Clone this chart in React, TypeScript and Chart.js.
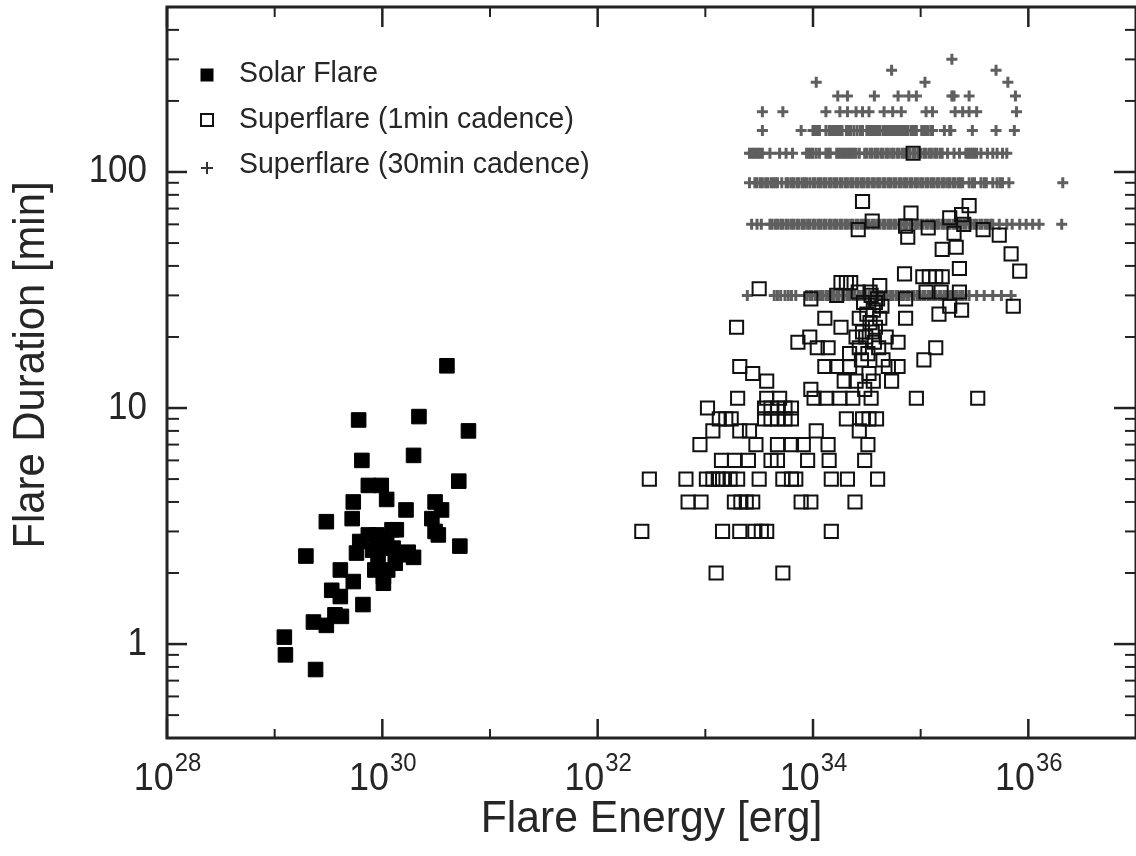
import React, { useEffect, useRef } from "react";
import { Chart, registerables } from "chart.js";

Chart.register(...registerables);

const FONT = '"Liberation Sans", Arial, Helvetica, sans-serif';
const TEXT = "#262626";
const AXIS = "#222222";
const CROSS = "#5f5f5f";

const seriesLabels = ["Solar Flare", "Superflare (1min cadence)", "Superflare (30min cadence)"];

// [log10 energy (erg), duration (min)]
const solarFlares: [number, number][] = [
  [30.60, 15.1], [29.78, 8.9], [30.34, 9.2], [30.80, 8.0], [29.81, 6.0], [30.29, 6.3],
  [30.71, 4.9], [29.87, 4.7], [29.99, 4.7], [29.73, 4.0], [30.04, 4.1], [30.22, 3.7],
  [30.49, 4.0], [30.55, 3.7], [29.48, 3.3], [29.72, 3.4], [30.13, 3.05], [30.46, 3.4],
  [29.87, 2.9], [30.04, 2.8], [30.52, 2.9], [30.72, 2.6], [29.29, 2.36], [29.76, 2.43],
  [29.91, 2.5], [29.96, 2.27], [30.16, 2.39], [30.29, 2.33], [29.79, 2.72], [29.61, 2.06],
  [29.73, 1.84], [30.01, 1.81], [29.93, 2.06], [29.53, 1.69], [29.61, 1.59], [29.82, 1.47],
  [29.56, 1.33], [29.36, 1.24], [29.48, 1.20], [29.62, 1.31], [29.09, 1.07], [29.10, 0.90],
  [29.38, 0.78], [30.49, 3.0], [30.05, 2.06], [30.01, 1.93], [30.09, 3.05], [29.98, 2.6],
  [30.10, 2.55], [30.24, 2.45], [30.12, 2.2], [29.95, 2.9],
];

const oneMinFlares: [number, number][] = [
  [33.10, 2], [33.72, 2],
  [32.41, 3], [33.16, 3], [33.32, 3], [33.46, 3], [33.52, 3], [33.57, 3], [34.17, 3],
  [32.84, 4], [32.96, 4], [33.27, 4], [33.33, 4], [33.38, 4], [33.44, 4], [33.89, 4], [33.98, 4], [34.39, 4],
  [32.48, 5], [32.82, 5], [33.01, 5], [33.07, 5], [33.12, 5], [33.16, 5], [33.23, 5], [33.30, 5],
  [33.50, 5], [33.72, 5], [33.80, 5], [33.84, 5], [34.17, 5], [34.32, 5], [34.60, 5],
  [33.15, 6], [33.27, 6], [33.40, 6], [33.61, 6], [33.67, 6], [33.95, 6], [34.15, 6], [34.48, 6],
  [32.95, 7], [33.47, 7], [33.67, 7], [33.80, 7], [33.91, 7], [34.14, 7], [34.51, 7],
  [33.07, 8], [33.32, 8], [33.41, 8], [34.03, 8], [34.43, 8],
  [33.13, 9], [33.19, 9], [33.24, 9], [33.55, 9], [33.61, 9], [33.67, 9], [33.74, 9], [33.80, 9],
  [34.31, 9], [34.46, 9], [34.52, 9], [34.59, 9],
  [33.02, 10], [33.55, 10], [33.61, 10], [33.67, 10], [33.74, 10], [33.80, 10],
  [33.30, 11], [33.57, 11], [33.69, 11], [34.01, 11], [34.12, 11], [34.25, 11], [34.37, 11],
  [34.54, 11], [34.96, 11], [35.53, 11],
  [33.98, 12], [34.48, 12],
  [33.57, 13], [34.29, 13], [34.40, 13], [34.73, 13], [34.56, 13],
  [33.44, 14], [34.52, 14],
  [33.32, 15], [34.11, 15], [34.22, 15], [34.34, 15], [34.70, 15], [34.79, 15],
  [34.65, 16], [35.03, 16], [34.45, 16],
  [34.34, 17], [34.51, 17],
  [34.04, 18], [34.14, 18], [34.43, 18], [35.14, 18], [34.61, 18],
  [33.86, 19], [34.57, 19], [34.79, 19],
  [33.97, 20], [34.68, 20], [34.40, 20], [34.49, 20],
  [34.46, 21], [34.55, 21],
  [33.29, 22], [34.26, 22], [34.58, 22],
  [34.53, 23],
  [34.11, 24], [34.43, 24], [34.62, 24], [34.86, 24],
  [35.17, 25], [34.50, 25],
  [34.56, 26], [35.38, 26],
  [34.64, 27], [35.27, 27], [35.86, 27],
  [34.58, 28], [34.47, 28],
  [33.98, 29], [34.60, 29], [34.86, 29],
  [34.22, 30], [34.54, 30],
  [34.42, 31], [35.05, 31], [35.19, 31], [35.36, 31], [34.53, 31],
  [33.50, 32],
  [34.62, 33],
  [34.26, 34], [34.31, 34], [34.35, 34],
  [35.02, 36], [35.08, 36], [35.14, 36], [35.20, 36],
  [34.85, 37], [35.92, 38], [35.36, 39],
  [35.84, 45], [35.20, 47], [35.33, 48], [34.88, 53], [35.73, 54], [35.31, 55],
  [34.42, 57], [35.58, 57], [35.07, 58], [34.86, 59], [35.40, 60], [34.55, 62],
  [35.27, 64], [35.38, 66], [34.91, 67], [35.45, 72], [34.46, 75],
  [34.93, 120],
];

// 30-min cadence: durations and the log10 energies found at each duration
const thirtyMinLevels = [30, 60, 90, 120, 150, 180, 210, 240, 270, 300];

const thirty30 = [33.39, 33.64, 33.67, 33.70, 33.74, 33.77, 33.80, 33.84, 33.94, 33.97, 33.99, 34.02, 34.04,
  34.07, 34.09, 34.12, 34.14, 34.17, 34.19, 34.22, 34.24, 34.27, 34.29, 34.32, 34.34, 34.37, 34.39, 34.42,
  34.44, 34.47, 34.49, 34.52, 34.54, 34.57, 34.59, 34.62, 34.64, 34.67, 34.69, 34.72, 34.74, 34.77, 34.79,
  34.82, 34.84, 34.87, 34.89, 34.92, 34.94, 34.97, 34.99, 35.02, 35.04, 35.07, 35.09, 35.12, 35.14, 35.17,
  35.19, 35.22, 35.24, 35.27, 35.29, 35.32, 35.34, 35.37, 35.39, 35.42, 35.45, 35.52, 35.59, 35.67, 35.75, 35.84];

const thirty60 = [33.43, 33.48, 33.52, 33.60, 33.62, 33.65, 33.67, 33.70, 33.72, 33.75, 33.77, 33.80, 33.82,
  33.85, 33.87, 33.90, 33.92, 33.95, 33.97, 34.00, 34.02, 34.05, 34.07, 34.10, 34.12, 34.15, 34.17, 34.20,
  34.22, 34.25, 34.27, 34.30, 34.32, 34.35, 34.37, 34.40, 34.42, 34.45, 34.47, 34.50, 34.52, 34.55, 34.57,
  34.60, 34.62, 34.65, 34.67, 34.70, 34.72, 34.75, 34.77, 34.80, 34.82, 34.85, 34.87, 34.90, 34.92, 34.95,
  34.97, 35.00, 35.02, 35.05, 35.07, 35.10, 35.12, 35.15, 35.17, 35.20, 35.22, 35.25, 35.27, 35.30, 35.32,
  35.35, 35.37, 35.40, 35.42, 35.45, 35.47, 35.50, 35.52, 35.55, 35.57, 35.60, 35.62, 35.65, 35.67, 35.73,
  35.80, 35.85, 35.92, 35.98, 36.04, 36.10, 36.31];

const thirty90 = [33.41, 33.46, 33.48, 33.51, 33.53, 33.56, 33.58, 33.61, 33.63, 33.65, 33.67, 33.71, 33.75,
  33.77, 33.80, 33.82, 33.85, 33.87, 33.90, 33.92, 33.94, 33.97, 34.00, 34.02, 34.05, 34.07, 34.10, 34.12,
  34.15, 34.17, 34.20, 34.22, 34.25, 34.27, 34.30, 34.32, 34.35, 34.37, 34.40, 34.42, 34.45, 34.47, 34.50,
  34.52, 34.55, 34.57, 34.60, 34.62, 34.65, 34.67, 34.70, 34.72, 34.75, 34.77, 34.80, 34.82, 34.85, 34.87,
  34.90, 34.92, 34.95, 34.97, 35.00, 35.02, 35.05, 35.07, 35.10, 35.12, 35.15, 35.17, 35.20, 35.22, 35.25,
  35.27, 35.30, 35.32, 35.35, 35.37, 35.39, 35.45, 35.48, 35.50, 35.56, 35.59, 35.61, 35.67, 35.71, 35.74,
  35.76, 35.82, 36.32];

const thirty120 = [33.41, 33.43, 33.45, 33.47, 33.49, 33.51, 33.53, 33.60, 33.69, 33.75, 33.81, 33.94, 33.96,
  33.98, 34.00, 34.03, 34.06, 34.12, 34.14, 34.16, 34.22, 34.24, 34.26, 34.28, 34.30, 34.32, 34.34, 34.36,
  34.38, 34.40, 34.43, 34.48, 34.50, 34.53, 34.55, 34.58, 34.60, 34.63, 34.65, 34.68, 34.70, 34.73, 34.75,
  34.78, 34.80, 34.83, 34.85, 34.88, 34.90, 34.93, 34.95, 34.98, 35.00, 35.03, 35.05, 35.08, 35.10, 35.13,
  35.15, 35.18, 35.20, 35.25, 35.31, 35.36, 35.42, 35.44, 35.46, 35.48, 35.50, 35.52, 35.56, 35.62, 35.67,
  35.71, 35.76, 35.80];

const thirty150 = [33.53, 33.89, 34.00, 34.02, 34.04, 34.06, 34.12, 34.15, 34.17, 34.19, 34.21, 34.23, 34.25,
  34.27, 34.31, 34.33, 34.35, 34.38, 34.41, 34.44, 34.46, 34.50, 34.52, 34.54, 34.56, 34.58, 34.60, 34.62,
  34.65, 34.66, 34.68, 34.70, 34.72, 34.74, 34.76, 34.78, 34.80, 34.82, 34.84, 34.86, 34.88, 34.91, 34.92,
  34.94, 34.96, 35.01, 35.03, 35.05, 35.07, 35.10, 35.11, 35.22, 35.27, 35.28, 35.48, 35.70, 35.87];

const thirty180 = [33.53, 33.72, 34.12, 34.25, 34.32, 34.40, 34.46, 34.52, 34.66, 34.74, 34.82, 35.05, 35.11,
  35.32, 35.39, 35.45, 35.52, 35.89];

const thirty210 = [34.23, 34.32, 34.57, 34.79, 34.89, 34.96, 35.29, 35.31, 35.45, 35.88];

const thirty240 = [34.03, 35.04, 35.81];

const thirty270 = [34.73, 35.70];

const thirty300 = [35.29];

const thirtyMinLogE = [thirty30, thirty60, thirty90, thirty120, thirty150, thirty180, thirty210, thirty240, thirty270, thirty300];

// axes
const xMin = 1e28;
const xMax = 1e37;
const yMin = 0.4;
const yMax = 500;
const xLabelExps = [28, 30, 32, 34, 36];
const xMinorExps = [29, 31, 33, 35];
const yLabelValues = [1, 10, 100];
const yTickLabels = ["1", "10", "100"];
const yMinorValues = [0.5, 0.6, 0.7, 0.8, 0.9, 2, 3, 4, 5, 6, 7, 8, 9, 20, 30, 40, 50, 60, 70, 80, 90, 200, 300, 400];
const xTitle = "Flare Energy [erg]";
const yTitle = "Flare Duration [min]";

function scaledText(ctx: CanvasRenderingContext2D, text: string, x: number, y: number, sx: number, align: CanvasTextAlign) {
  ctx.save();
  ctx.translate(x, y);
  ctx.scale(sx, 1);
  ctx.textAlign = align;
  ctx.fillText(text, 0, 0);
  ctx.restore();
}

const decorPlugin = {
  id: "decor",
  afterDatasetsDraw(chart: any) {
    const ctx: CanvasRenderingContext2D = chart.ctx;
    const a = chart.chartArea;
    const xs = chart.scales.x;
    const ys = chart.scales.y;
    ctx.save();
    ctx.strokeStyle = AXIS;
    ctx.lineCap = "butt";
    const seg = (x1: number, y1: number, x2: number, y2: number, w: number) => {
      ctx.lineWidth = w;
      ctx.beginPath();
      ctx.moveTo(x1, y1);
      ctx.lineTo(x2, y2);
      ctx.stroke();
    };
    for (const e of xLabelExps) {
      const p = xs.getPixelForValue(Math.pow(10, e));
      seg(p, a.bottom, p, a.bottom - 19, 2.5);
      seg(p, a.top, p, a.top + 20, 2.5);
    }
    for (const e of xMinorExps) {
      const p = xs.getPixelForValue(Math.pow(10, e));
      seg(p, a.bottom, p, a.bottom - 9, 2);
      seg(p, a.top, p, a.top + 10, 2);
    }
    for (const v of yLabelValues) {
      const p = ys.getPixelForValue(v);
      seg(a.left, p, a.left + 20, p, 2.5);
      seg(a.right, p, a.right - 22, p, 2.5);
    }
    for (const v of yMinorValues) {
      const p = ys.getPixelForValue(v);
      seg(a.left, p, a.left + 12, p, 2);
      seg(a.right, p, a.right - 11, p, 2);
    }
    ctx.lineWidth = 3;
    ctx.strokeRect(a.left, a.top, a.right - a.left, a.bottom - a.top);

    ctx.fillStyle = TEXT;
    ctx.textBaseline = "alphabetic";
    const sx = 0.92;
    for (const e of xLabelExps) {
      const p = xs.getPixelForValue(Math.pow(10, e));
      const sup = String(e);
      ctx.font = `39px ${FONT}`;
      const w1 = ctx.measureText("10").width * sx;
      ctx.font = `26px ${FONT}`;
      const w2 = ctx.measureText(sup).width * sx;
      const x0 = p - (w1 + w2) / 2;
      ctx.font = `39px ${FONT}`;
      scaledText(ctx, "10", x0, a.bottom + 52, sx, "left");
      ctx.font = `26px ${FONT}`;
      scaledText(ctx, sup, x0 + w1 + 1, a.bottom + 33, sx, "left");
    }
    ctx.font = `38px ${FONT}`;
    ctx.textBaseline = "middle";
    yLabelValues.forEach((v, i) => {
      scaledText(ctx, yTickLabels[i], a.left - 20, ys.getPixelForValue(v), sx, "right");
    });

    ctx.font = `44px ${FONT}`;
    ctx.textBaseline = "alphabetic";
    scaledText(ctx, xTitle, (a.left + a.right) / 2, 832, 0.97, "center");

    ctx.save();
    ctx.translate(32, 365);
    ctx.rotate(-Math.PI / 2);
    ctx.textBaseline = "middle";
    scaledText(ctx, yTitle, 0, 0, 0.95, "center");
    ctx.restore();

    // legend
    const lx = a.left + 40;
    const tx = a.left + 72;
    ctx.fillStyle = "#000";
    ctx.fillRect(lx - 6.5, 68.5, 13, 13);
    ctx.strokeStyle = "#111";
    ctx.lineWidth = 2;
    ctx.strokeRect(lx - 6, 114, 12, 12);
    ctx.strokeStyle = "#333";
    seg(lx - 6, 168, lx + 6, 168, 2);
    seg(lx, 162, lx, 174, 2);
    ctx.fillStyle = TEXT;
    ctx.font = `29px ${FONT}`;
    ctx.textBaseline = "alphabetic";
    const baselines = [82, 128, 173];
    seriesLabels.forEach((lab, i) => scaledText(ctx, lab, tx, baselines[i], 0.98, "left"));
    ctx.restore();
  },
};

export default function App() {
  const ref = useRef<HTMLCanvasElement | null>(null);
  useEffect(() => {
    document.body.style.margin = "0";
    const canvas = ref.current;
    if (!canvas) return;
    const solarData = solarFlares.map(([e, d]) => ({ x: Math.pow(10, e), y: d }));
    const oneMinData = oneMinFlares.map(([e, d]) => ({ x: Math.pow(10, e), y: d }));
    const thirtyData: { x: number; y: number }[] = [];
    thirtyMinLevels.forEach((lvl, i) => {
      thirtyMinLogE[i].forEach((e) => thirtyData.push({ x: Math.pow(10, e), y: lvl }));
    });
    const chart = new Chart(canvas, {
      type: "scatter",
      data: {
        datasets: [
          {
            label: seriesLabels[0],
            data: solarData,
            pointStyle: "rect",
            radius: 10.3,
            backgroundColor: "#000",
            borderColor: "#000",
            borderWidth: 1,
          },
          {
            label: seriesLabels[1],
            data: oneMinData,
            pointStyle: "rect",
            radius: 9.3,
            backgroundColor: "rgba(0,0,0,0)",
            borderColor: "#111",
            borderWidth: 2,
          },
          {
            label: seriesLabels[2],
            data: thirtyData,
            pointStyle: "cross",
            radius: 5.5,
            borderColor: CROSS,
            backgroundColor: CROSS,
            borderWidth: 3,
          },
        ],
      },
      options: {
        responsive: false,
        animation: false,
        devicePixelRatio: 1,
        events: [],
        layout: { autoPadding: false, padding: { top: 7, right: 0, bottom: 0, left: 0 } },
        plugins: { legend: { display: false }, tooltip: { enabled: false } },
        scales: {
          x: {
            type: "logarithmic",
            min: xMin,
            max: xMax,
            ticks: { display: false },
            grid: { display: false },
            border: { display: false },
            afterFit: (s: any) => {
              s.height = 118;
            },
          },
          y: {
            type: "logarithmic",
            min: yMin,
            max: yMax,
            ticks: { display: false },
            grid: { display: false },
            border: { display: false },
            afterFit: (s: any) => {
              s.width = 167;
            },
          },
        },
      } as any,
      plugins: [decorPlugin],
    });
    return () => chart.destroy();
  }, []);
  return (
    <div style={{ width: 1136, height: 856, background: "#fff" }}>
      <canvas ref={ref} width={1136} height={856} style={{ display: "block" }} />
    </div>
  );
}
